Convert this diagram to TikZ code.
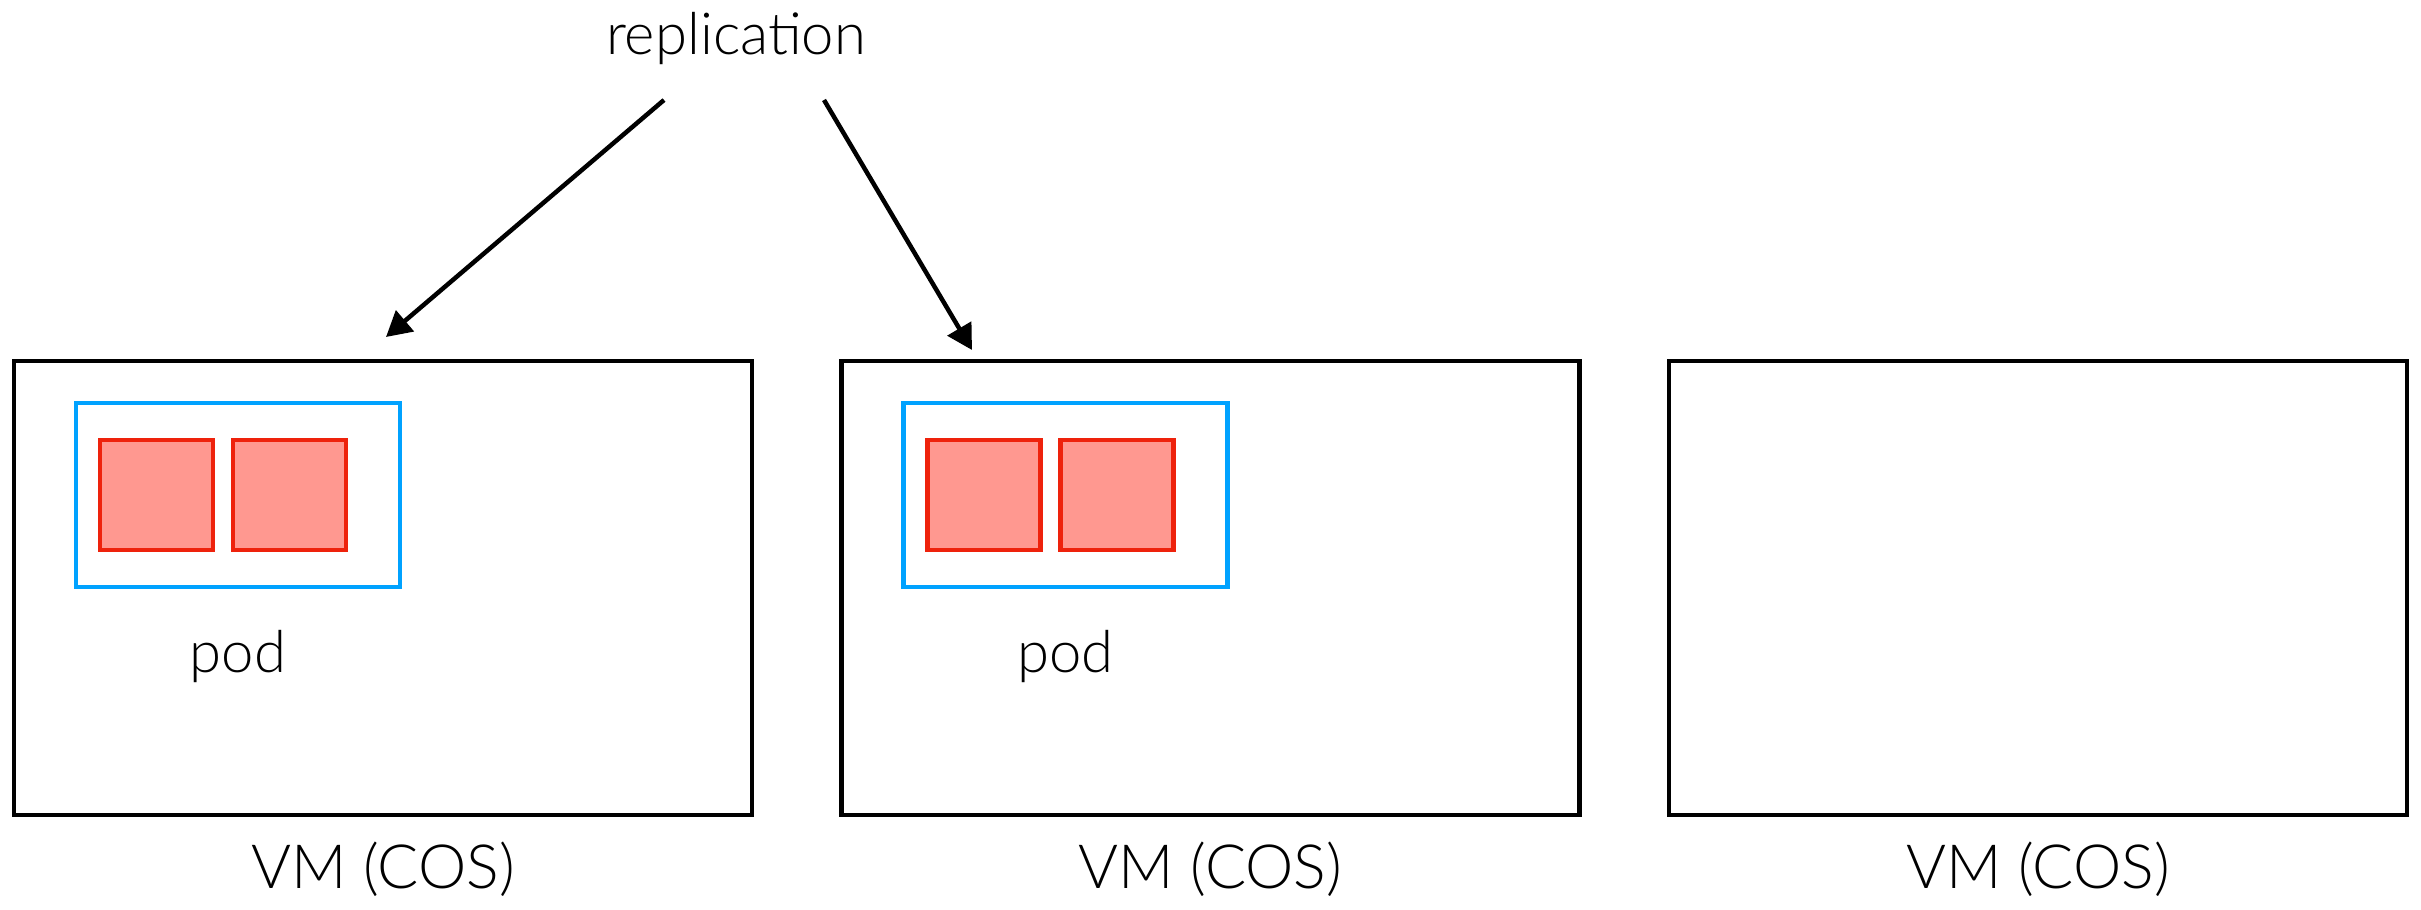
\documentclass[tikz,border=0pt]{standalone}
\usepackage{fontspec}
\setmainfont{Lato Light}[UprightFont=*, BoldFont=Lato]
\usetikzlibrary{arrows.meta}
\definecolor{podblue}{RGB}{0,162,255}
\definecolor{ctred}{RGB}{238,34,12}
\definecolor{ctfill}{RGB}{255,152,144}
\tikzset{
  vmbox/.style={draw=black, line width=4.8pt, minimum width=738pt, minimum height=454pt, inner sep=0pt},
  podbox/.style={draw=podblue, line width=4.2pt, minimum width=324pt, minimum height=184pt, inner sep=0pt},
  ctbox/.style={draw=ctred, fill=ctfill, line width=4.2pt, minimum width=113pt, minimum height=110pt, inner sep=0pt},
  lbl/.style={font=\fontsize{58}{68}\selectfont, inner sep=0pt},
  vmlbl/.style={font=\fontsize{61}{70}\selectfont, inner sep=0pt},
  arr/.style={line width=4.5pt, -{Triangle[length=25pt,width=27pt]}}
}
\begin{document}
\begin{tikzpicture}[x=1pt,y=-1pt]
\useasboundingbox (0,0) rectangle (2421,910);
% VM boxes
\node[vmbox] (vm1) at (383,588) {};
\node[vmbox] (vm2) at (1210.5,588) {};
\node[vmbox] (vm3) at (2038,588) {};
% pods
\node[podbox] (pod1) at (238,495) {};
\node[podbox] (pod2) at (1065.5,495) {};
% containers
\node[ctbox] (c11) at (156.5,495) {};
\node[ctbox] (c12) at (289.5,495) {};
\node[ctbox] (c21) at (984,495) {};
\node[ctbox] (c22) at (1117,495) {};
% labels
\node[lbl, anchor=base] (podl1) at (238,672) {pod};
\node[lbl, anchor=base] (podl2) at (1065.5,672) {pod};
\node[vmlbl, anchor=base] (vml1) at (383,888) {VM (COS)};
\node[vmlbl, anchor=base] (vml2) at (1210.5,888) {VM (COS)};
\node[vmlbl, anchor=base] (vml3) at (2038,888) {VM (COS)};
\node[lbl, anchor=base] (repl) at (736,54) {replication};
% arrows
\coordinate (s1) at (664,100);
\coordinate (t1) at (386,337);
\coordinate (s2) at (824,100);
\coordinate (t2) at (972,350);
\draw[arr] (s1) -- (t1);
\draw[arr] (s2) -- (t2);
\end{tikzpicture}
\end{document}
